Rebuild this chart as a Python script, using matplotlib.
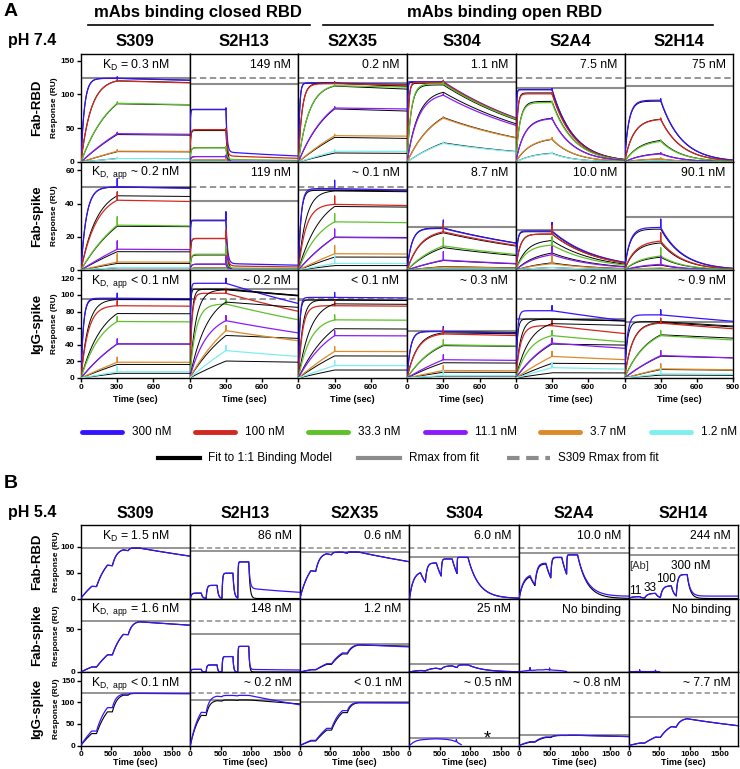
import numpy as np
import matplotlib
matplotlib.use('Agg')
import matplotlib.pyplot as plt

plt.rcParams['font.family'] = ['Liberation Sans', 'DejaVu Sans']
plt.rcParams['mathtext.default'] = 'regular'

W, H = 740, 769

mabs = ['S309', 'S2H13', 'S2X35', 'S304', 'S2A4', 'S2H14']
rows = ['Fab-RBD', 'Fab-spike', 'IgG-spike']
conc_nM = [300, 100, 33.3, 11.1, 3.7, 1.2]
conc_labels = ['300 nM', '100 nM', '33.3 nM', '11.1 nM', '3.7 nM', '1.2 nM']
conc_colors = ['#3414ff', '#d2281f', '#5ec12a', '#8a1cfa', '#dc8a2a', '#7eeeee']
gray = '#8c8c8c'

# ---------------- panel A (pH 7.4, multi-cycle) ----------------
kd_text_a = [
    ['K$_{D}$ = 0.3 nM', '149 nM', '0.2 nM', '1.1 nM', '7.5 nM', '75 nM'],
    ['K$_{D,\\ app}$ ~ 0.2 nM', '119 nM', '~ 0.1 nM', '8.7 nM', '10.0 nM', '90.1 nM'],
    ['K$_{D,\\ app}$ < 0.1 nM', '~ 0.2 nM', '< 0.1 nM', '~ 0.3 nM', '~ 0.2 nM', '~ 0.9 nM'],
]
# fitted 1:1 parameters (Rmax in RU, ka in 1/M/s, kd in 1/s)
rmax_a = [[124, 116, 117, 118, 110, 112.5],
          [50, 41.4, 48, 26, 23.8, 32],
          [95, 107, 94, 56, 71, 68]]
ka_a = [[1.2e5, 6.7e5, 3.4e5, 9e5, 7.5e5, 7.8e4],
        [7.5e4, 6.7e5, 1.6e5, 8.4e4, 2.7e5, 6e4],
        [1.7e5, 6e5, 3e5, 1.2e5, 2.6e5, 1.5e5]]
kd_a = [[3.6e-5, 0.1, 6.8e-5, 1e-3, 5.6e-3, 5.8e-3],
        [1.5e-5, 0.08, 1.6e-5, 7.3e-4, 2.7e-3, 5.4e-3],
        [5e-6, 1.2e-4, 1e-5, 3.6e-5, 5.2e-5, 1.35e-4]]
# measured response at end of association (t = 300 s), per concentration
plat_a = [
    [[124, 120, 87, 42, 16, 5],
     [78, 48, 21, 8, 3, 1],
     [117, 116, 113, 80, 39, 16],
     [119, 118, 116, 99, 65, 27.5],
     [107, 101, 88, 64, 34, 12.5],
     [91.5, 63, 30.5, 12, 4.5, 1.5]],
    [[50, 42, 27, 12.5, 4.8, 1.5],
     [30, 19, 9.5, 3.5, 1.2, 0.4],
     [49, 39.5, 29, 19.6, 9.8, 4],
     [25, 23, 14.5, 6, 1.8, 0.6],
     [23.5, 21.6, 15, 9.2, 3.8, 1.5],
     [25.6, 17.4, 8.4, 3.4, 1.2, 0.4]],
    [[96, 87, 68, 41, 19, 7.5],
     [114, 102, 89, 69, 57, 33],
     [97, 87, 70, 51, 32, 15],
     [56, 53, 40, 22, 9, 3],
     [81, 63, 51, 42, 26, 12.5],
     [76, 66, 51, 27, 11, 5]],
]
# measured dissociation: slowly dissociating fraction and its rate
resid_a = [[1, 0.19, 1, 0, 0, 0],
           [1, 0.13, 1, 0, 0, 0],
           [1, 1, 1, 1, 1, 1]]
kslow_a = [[4e-5, 8.5e-4, 3e-5, 0, 0, 0],
           [3e-5, 5e-4, 3e-5, 0, 0, 0],
           [1e-5, 4e-4, 1e-5, 6e-5, 2.7e-4, 1.8e-4]]
spike_a = [2, 5, 6]
ylim_a = [160, 65, 130]
yticks_a = [[0, 50, 100, 150], [0, 20, 40, 60], [0, 20, 40, 60, 80, 100, 120]]

# ---------------- panel B (pH 5.4, single-cycle) ----------------
kd_text_b = [
    ['K$_{D}$ = 1.5 nM', '86 nM', '0.6 nM', '6.0 nM', '10.0 nM', '244 nM'],
    ['K$_{D,\\ app}$ = 1.6 nM', '148 nM', '1.2 nM', '25 nM', 'No binding', 'No binding'],
    ['K$_{D,\\ app}$ < 0.1 nM', '~ 0.2 nM', '< 0.1 nM', '~ 0.5 nM', '~ 0.8 nM', '~ 7.7 nM'],
]
sck_conc = [11.1, 33.3, 100, 300]
inj_start = [0, 260, 520, 780]
inj_len = 180
rmax_b = [[98, 91, 90, 81, 87, 84],
          [60, 44.8, 33, 9.1, None, None],
          [120.5, 105.5, 100, 16.8, 23.6, 65]]
ka_b = [[1.4e5, 5.8e5, 4.7e5, 9.5e5, 6.5e5, 8.2e4],
        [5.2e4, 5.4e5, 4e4, 1.6e5, None, None],
        [1.3e5, 5.5e5, 5.5e4, None, 2e5, 4.7e4]]
kd_b = [[2.1e-4, 0.05, 2.8e-4, 5.7e-3, 6.5e-3, 0.02],
        [8.4e-5, 0.08, 4.8e-5, 4e-3, None, None],
        [5e-6, 1.1e-4, 3e-6, None, 1.6e-4, 3.6e-4]]
# how the measured trace departs from the fit
dfac_b = [[1, 1, 1, 1, 1.1, 1],
          [1, 1, 1.1, 1, 1, 1],
          [1.25, 1, 1.15, 1, 1.2, 1]]
rfac_b = [[1, 1, 1, 1, 1, 1],
          [1, 1, 1, 1, 1, 1],
          [1, 1.1, 1, 1, 1, 1]]
resid_b = [[0, 0.28, 0, 0, 0.05, 0.1],
           [0, 0.1, 1, 0, 0, 0],
           [0, 1, 0, 0, 0, 0]]
kslow_b = [[0, 6e-4, 0, 0, 0, 0],
           [0, 3e-4, 1e-4, 0, 0, 0],
           [0, 2.5e-4, 0, 0, 0, 0]]
# traces without a fit, read point by point
raw_b = {
    (1, 4): ([0, 60, 120, 180, 180, 180, 250, 300, 400, 440, 500, 500, 500, 600, 700, 780],
             [0.3, 1, 1.5, 2, 5, 2, 2, 2.5, 2.5, 3, 2.5, 4.5, 2.5, 2, 1.5, 0.5]),
    (1, 5): ([0, 100, 180, 180, 180, 260, 350, 440, 440, 440, 507],
             [0.3, 0.5, 0.6, 2.5, 0.6, 0.5, 0.5, 0.6, 2, 0.6, 0.4]),
    (2, 3): ([0, 60, 120, 180, 260, 350, 440, 520, 620, 700, 760, 770, 780, 810, 850],
             [0, 7, 11, 13, 14, 15, 15.5, 15, 14, 12, 9, 14, 8, 5, 2]),
}
ylim_b = [142, 86, 170]
yticks_b = [[0, 50, 100], [0, 50], [0, 50, 100, 150]]


def rect(x, y, w, h):
    return [x / W, 1 - (y + h) / H, w / W, h / H]


def sck_curve(t, ka, kd, rm):
    cp = np.zeros_like(t)
    for s, C in zip(inj_start, sck_conc):
        cp[(t >= s) & (t < s + inj_len)] = C * 1e-9
    R = np.zeros_like(t)
    for n in range(1, len(t)):
        dt = t[n] - t[n - 1]
        kobs = ka * cp[n - 1] + kd
        if kobs <= 0:
            R[n] = R[n - 1]
            continue
        req = ka * cp[n - 1] * rm / kobs
        R[n] = req + (R[n - 1] - req) * np.exp(-kobs * dt)
    return R


fig = plt.figure(figsize=(W / 100, H / 100), dpi=100)
ov = fig.add_axes([0, 0, 1, 1])
ov.set_xlim(0, W)
ov.set_ylim(H, 0)
ov.axis('off')

bold = dict(fontweight='bold')

# headers
ov.text(4, 12, 'A', fontsize=14, va='center', **bold)
ov.text(198, 12, 'mAbs binding closed RBD', fontsize=12, ha='center', va='center', **bold)
ov.text(505, 12, 'mAbs binding open RBD', fontsize=12, ha='center', va='center', **bold)
ov.plot([88, 310], [24.5, 24.5], color='k', lw=1.2)
ov.plot([323, 713], [24.5, 24.5], color='k', lw=1.2)
ov.text(8, 41, 'pH 7.4', fontsize=11.5, va='center', **bold)

x0_a, cw_a, rh_a = 81, 108.7, 108
tops_a = [54, 162, 270]
t_ass = np.linspace(0, 300, 301)
t_dis = np.linspace(300, 900, 601)

for c in range(6):
    ov.text(x0_a + (c + 0.5) * cw_a, 41, mabs[c], fontsize=12, ha='center', va='center', **bold)
for r in range(3):
    yc = tops_a[r] + rh_a / 2
    ov.text(37, yc, rows[r], fontsize=9.5, rotation=90, ha='center', va='center', **bold)
    ov.text(54, yc, 'Response (RU)', fontsize=6, rotation=90, ha='center', va='center', **bold)
    for c in range(6):
        ax = fig.add_axes(rect(x0_a + c * cw_a, tops_a[r], cw_a, rh_a))
        ka, kd, rm = ka_a[r][c], kd_a[r][c], rmax_a[r][c]
        f, ks = resid_a[r][c], kslow_a[r][c]
        for i, C in enumerate(conc_nM):
            kobs = ka * C * 1e-9 + kd
            req = ka * C * 1e-9 * rm / kobs
            fit_ass = req * (1 - np.exp(-kobs * t_ass))
            fit_dis = fit_ass[-1] * np.exp(-kd * (t_dis - 300))
            P = plat_a[r][c][i]
            dat_ass = P * (1 - np.exp(-kobs * t_ass)) / (1 - np.exp(-kobs * 300))
            dat_dis = P * ((1 - f) * np.exp(-kd * (t_dis - 300)) + f * np.exp(-ks * (t_dis - 300)))
            sp = spike_a[r] if P > 2 else 0
            ax.plot(np.r_[t_ass, t_dis], np.r_[fit_ass, fit_dis], color='k', lw=0.7, zorder=3)
            ax.plot(np.r_[t_ass, 300, t_dis], np.r_[dat_ass, P + sp, dat_dis],
                    color=conc_colors[i], lw=0.9, zorder=3)
        ax.axhline(rm, color=gray, lw=1.5, zorder=2)
        if c > 0:
            ax.axhline(rmax_a[r][0], color=gray, lw=1.3, ls=(0, (3.5, 2)), zorder=2)
        ha = 'center' if c == 0 else 'right'
        tx = 0.5 if c == 0 else 0.93
        ax.text(tx, 1 - 11 / rh_a, kd_text_a[r][c], transform=ax.transAxes,
                ha=ha, va='center', fontsize=8.8)
        ax.set_xlim(0, 900)
        ax.set_ylim(0, ylim_a[r])
        ax.set_yticks(yticks_a[r])
        ax.set_xticks([0, 300, 600, 900] if c == 5 else [0, 300, 600])
        ax.tick_params(direction='out', length=3, width=1, labelsize=6, pad=1.5,
                       left=(c == 0), labelleft=(c == 0),
                       bottom=(r == 2), labelbottom=(r == 2))
        for lab in ax.get_xticklabels() + ax.get_yticklabels():
            lab.set_fontweight('bold')
        for s in ax.spines.values():
            s.set_linewidth(1.0)
        if r == 2:
            ax.set_xlabel('Time (sec)', fontsize=6.5, labelpad=3, **bold)

# legend
leg_x = [82, 195, 308, 425, 540, 651]
for i in range(6):
    ov.plot([leg_x[i], leg_x[i] + 40], [432, 432], color=conc_colors[i], lw=3.5, solid_capstyle='round')
    ov.text(leg_x[i] + 50, 432, conc_labels[i], fontsize=8.5, va='center')
ov.plot([158, 200], [458, 458], color='k', lw=3)
ov.text(208, 458, 'Fit to 1:1 Binding Model', fontsize=8.5, va='center')
ov.plot([358, 400], [458, 458], color=gray, lw=3)
ov.text(409, 458, 'Rmax from fit', fontsize=8.5, va='center')
ov.plot([507, 550], [458, 458], color=gray, lw=3, ls=(0, (3, 1.6)))
ov.text(558, 458, 'S309 Rmax from fit', fontsize=8.5, va='center')

# panel B
ov.text(4, 483, 'B', fontsize=14, va='center', **bold)
ov.text(8, 512, 'pH 5.4', fontsize=11.5, va='center', **bold)
x0_b, cw_b, rh_b = 80.7, 109.6, 73.5
tops_b = [525, 598.5, 672]
t = np.arange(0, 1801, 2.0)
t_end = inj_start[-1] + inj_len
for c in range(6):
    ov.text(x0_b + (c + 0.5) * cw_b, 513, mabs[c], fontsize=11.5, ha='center', va='center', **bold)
for r in range(3):
    yc = tops_b[r] + rh_b / 2
    ov.text(37, yc, rows[r], fontsize=9.5, rotation=90, ha='center', va='center', **bold)
    ov.text(56, yc, 'Response (RU)', fontsize=6, rotation=90, ha='center', va='center', **bold)
    for c in range(6):
        ax = fig.add_axes(rect(x0_b + c * cw_b, tops_b[r], cw_b, rh_b))
        rm = rmax_b[r][c]
        if (r, c) in raw_b:
            tr, vr = raw_b[(r, c)]
            ax.plot(tr, vr, color=conc_colors[0], lw=0.9, zorder=3)
        else:
            ka, kd = ka_b[r][c], kd_b[r][c]
            fit = sck_curve(t, ka, kd, rm)
            dat = sck_curve(t, ka * dfac_b[r][c], kd, rm * rfac_b[r][c])
            f, ks = resid_b[r][c], kslow_b[r][c]
            late = t > t_end
            r_end = dat[t == t_end][0]
            dt = t[late] - t_end
            dat[late] = r_end * ((1 - f) * np.exp(-kd * dt) + f * np.exp(-ks * dt))
            ax.plot(t, fit, color='k', lw=0.8, zorder=3)
            ax.plot(t, dat, color=conc_colors[0], lw=0.9, zorder=3)
        if rm is not None:
            ax.axhline(rm, color=gray, lw=1.3, zorder=2)
        if c > 0:
            ax.axhline(rmax_b[r][0], color=gray, lw=1.1, ls=(0, (3.5, 2)), zorder=2)
        ha = 'center' if c == 0 else 'right'
        tx = 0.5 if c == 0 else 0.93
        ax.text(tx, 1 - 11 / rh_b, kd_text_b[r][c], transform=ax.transAxes,
                ha=ha, va='center', fontsize=8.8)
        ax.set_xlim(0, 1800)
        ax.set_ylim(0, ylim_b[r])
        ax.set_yticks(yticks_b[r])
        ax.set_xticks([0, 500, 1000, 1500])
        ax.tick_params(direction='out', length=3, width=1, labelsize=6, pad=1,
                       left=(c == 0), labelleft=(c == 0),
                       bottom=(r == 2), labelbottom=(r == 2))
        for lab in ax.get_xticklabels() + ax.get_yticklabels():
            lab.set_fontweight('bold')
        for s in ax.spines.values():
            s.set_linewidth(1.0)
        if r == 2:
            ax.set_xlabel('Time (sec)', fontsize=6.5, labelpad=0, **bold)
        if (r, c) == (0, 5):
            ax.text(10, 62, '[Ab]', fontsize=8, va='center', color='#333333')
            ax.text(1020, 62, '300 nM', fontsize=8.5, ha='center', va='center')
            ax.text(620, 37, '100', fontsize=8.5, ha='center', va='center')
            ax.text(355, 21, '33', fontsize=8.5, ha='center', va='center')
            ax.text(110, 15, '11', fontsize=8.5, ha='center', va='center')
        if (r, c) == (2, 3):
            ax.text(1270, 14, '*', fontsize=13, ha='center', va='center')

fig.savefig('out.png', dpi=100)
